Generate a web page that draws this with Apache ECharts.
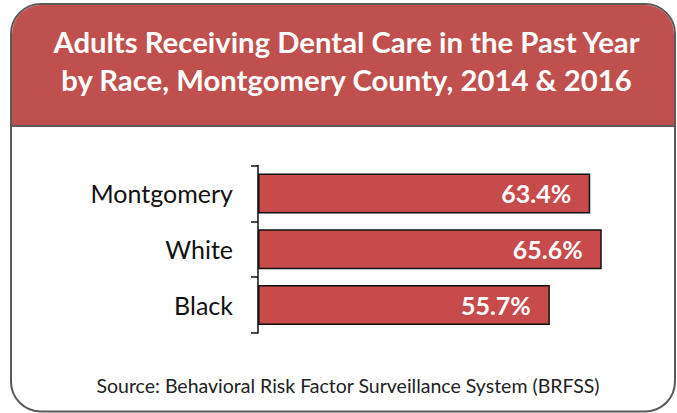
<!DOCTYPE html>
<html>
<head>
<meta charset="utf-8">
<script src="https://cdn.jsdelivr.net/npm/echarts@6/dist/echarts.min.js"></script>
<style>
  html, body { margin: 0; padding: 0; background: #ffffff; }
  #chart { width: 677px; height: 413px; }
</style>
</head>
<body>
<div id="chart"></div>
<script>
// ---- data ----
const categories = ['Montgomery', 'White', 'Black'];
const values = [63.4, 65.6, 55.7];
const titleLines = ['Adults Receiving Dental Care in the Past Year', 'by Race, Montgomery County, 2014 & 2016'];
const sourceText = 'Source: Behavioral Risk Factor Surveillance System (BRFSS)';

const chart = echarts.init(document.getElementById('chart'), null, { renderer: 'svg' });

const option = {
  animation: false,
  backgroundColor: '#ffffff',
  graphic: [
    {
      type: 'rect', z: -10, silent: true,
      shape: { x: 11, y: 4, width: 664, height: 407.5, r: 30 },
      style: { fill: '#ffffff', stroke: '#5a5a5a', lineWidth: 2 }
    },
    {
      type: 'rect', z: -9, silent: true,
      shape: { x: 12, y: 5, width: 662, height: 121, r: [29, 29, 0, 0] },
      style: { fill: '#C0504D' }
    },
    {
      type: 'line', z: -8, silent: true,
      shape: { x1: 11, y1: 126, x2: 675, y2: 126 },
      style: { stroke: '#5a5a5a', lineWidth: 2 }
    },
    {
      type: 'text', z: 10, silent: true,
      x: 346.5, y: 23,
      style: {
        text: titleLines.join('\n'),
        align: 'center',
        verticalAlign: 'top',
        fontFamily: 'Lato',
        fontWeight: 'bold',
        fontSize: 29.3,
        lineHeight: 37.5,
        fill: '#ffffff'
      }
    },
    {
      type: 'text', z: 10, silent: true,
      x: 348, y: 375,
      style: {
        text: sourceText,
        align: 'center',
        verticalAlign: 'top',
        fontFamily: 'Lato',
        fontWeight: 'normal',
        fontSize: 19.5,
        lineHeight: 21,
        fill: '#222222'
      }
    }
  ],
  grid: {
    left: 258,
    top: 165.5,
    height: 167.5,
    width: 366.8,
    containLabel: false
  },
  xAxis: {
    type: 'value',
    min: 0,
    max: 70,
    show: false
  },
  yAxis: {
    type: 'category',
    data: categories,
    inverse: true,
    axisLine: { show: true, lineStyle: { color: '#111111', width: 1.5 } },
    axisTick: { show: true, length: 7, lineStyle: { color: '#111111', width: 1.5 } },
    axisLabel: {
      margin: 25,
      fontFamily: 'Lato',
      fontSize: 25,
      color: '#111111'
    },
    splitLine: { show: false }
  },
  series: [
    {
      type: 'bar',
      data: values,
      barWidth: 40,
      itemStyle: {
        color: '#C84B4C',
        borderColor: '#111111',
        borderWidth: 1.5
      },
      label: {
        show: true,
        position: 'insideRight',
        distance: 19,
        formatter: '{c}%',
        fontFamily: 'Lato',
        fontWeight: 'bold',
        fontSize: 25,
        color: '#ffffff'
      }
    }
  ]
};

chart.setOption(option);
</script>
</body>
</html>
